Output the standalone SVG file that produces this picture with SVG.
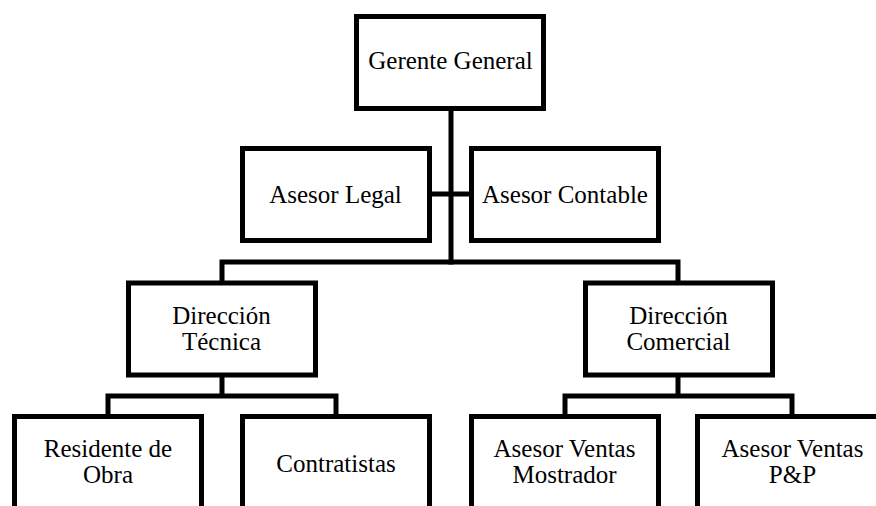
<svg xmlns="http://www.w3.org/2000/svg" width="876" height="506" viewBox="0 0 876 506">
<style>
.box{fill:#fff;stroke:#000;stroke-width:5;stroke-linejoin:miter}
.con{fill:none;stroke:#000;stroke-width:5;stroke-linejoin:miter;stroke-linecap:butt}
.t{font-family:'Liberation Serif','Tinos','Times New Roman','DejaVu Serif','Noto Serif',serif;font-size:25px;fill:#000;text-anchor:middle}
</style>
<rect width="876" height="506" fill="#fff"/>
<g id="connectors">
<path class="con" d="M451 108 V264.5"/>
<path class="con" d="M430 194 H472"/>
<path class="con" d="M222 284 V262 H678 V284"/>
<path class="con" d="M222 375 V396"/>
<path class="con" d="M108 417 V396 H336 V417"/>
<path class="con" d="M678 375 V396"/>
<path class="con" d="M565 417 V396 H792 V417"/>
</g>
<g id="gerente-general">
<rect class="box" x="356.5" y="16.5" width="187" height="92"/>
<text class="t" x="450.5" y="68.5">Gerente General</text>
</g>
<g id="asesor-legal">
<rect class="box" x="242.5" y="148.5" width="187" height="92"/>
<text class="t" x="335.5" y="203">Asesor Legal</text>
</g>
<g id="asesor-contable">
<rect class="box" x="471.5" y="148.5" width="187" height="92"/>
<text class="t" x="565" y="203">Asesor Contable</text>
</g>
<g id="direccion-tecnica">
<rect class="box" x="128.5" y="283" width="187" height="92"/>
<text class="t" x="221.5" y="324">Dirección</text>
<text class="t" x="221.5" y="350">Técnica</text>
</g>
<g id="direccion-comercial">
<rect class="box" x="585.5" y="283" width="187" height="92"/>
<text class="t" x="678.5" y="324">Dirección</text>
<text class="t" x="678.5" y="350">Comercial</text>
</g>
<g id="residente-de-obra">
<rect class="box" x="14.5" y="416.5" width="187" height="110"/>
<text class="t" x="108" y="457">Residente de</text>
<text class="t" x="108" y="483">Obra</text>
</g>
<g id="contratistas">
<rect class="box" x="242.5" y="416.5" width="187" height="110"/>
<text class="t" x="336" y="472">Contratistas</text>
</g>
<g id="asesor-ventas-mostrador">
<rect class="box" x="471.5" y="416.5" width="187" height="110"/>
<text class="t" x="564.5" y="457">Asesor Ventas</text>
<text class="t" x="564.5" y="483">Mostrador</text>
</g>
<g id="asesor-ventas-pp">
<rect class="box" x="697.5" y="416.5" width="187" height="110"/>
<text class="t" x="792.5" y="457">Asesor Ventas</text>
<text class="t" x="792.5" y="483">P&amp;P</text>
</g>
</svg>
